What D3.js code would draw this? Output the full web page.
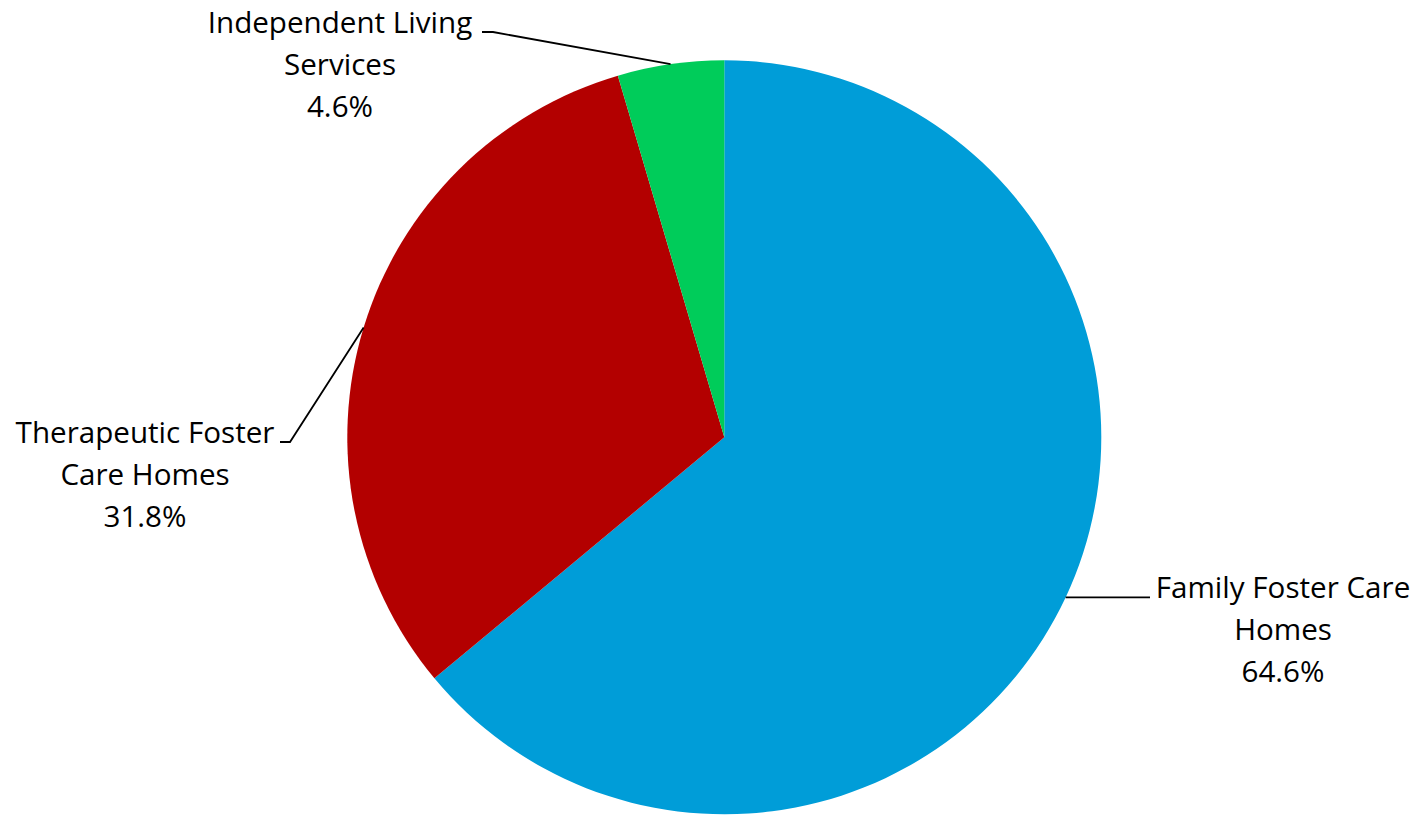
<!DOCTYPE html>
<html>
<head>
<meta charset="utf-8">
<script src="https://cdn.jsdelivr.net/npm/d3@7"></script>
<style>
  html, body { margin: 0; padding: 0; background: #fff; }
  svg { display: block; }
  text { font-family: "Open Sans", "Noto Sans", sans-serif; fill: #000; }
</style>
</head>
<body>
<svg id="chart" width="1420" height="818"></svg>
<script>
// Data
const categories = ["Family Foster Care Homes", "Therapeutic Foster Care Homes", "Independent Living Services"];
const labelLines = [["Family Foster Care", "Homes"], ["Therapeutic Foster", "Care Homes"], ["Independent Living", "Services"]];
const values = [64.6, 31.8, 4.6];
const percentLabels = ["64.6%", "31.8%", "4.6%"];
const colors = ["#009DD8", "#B30000", "#00CC5A"];

// Layout
const W = 1420, H = 818;
const cx = 724.3, cy = 437.3, R = 377;
const fontSize = 29.6, lineH = 42;
// label layout: text anchor centre x, first baseline y, elbow end (where horizontal segment meets text)
const labelLayout = [
  { x: 1283, y: 598, side: "right", elbowX: 1150 },
  { x: 145, y: 443, side: "left", elbowX: 290, endX: 280 },
  { x: 340, y: 33, side: "left", elbowX: 493, endX: 482 }
];

const svg = d3.select("#chart");
const g = svg.append("g").attr("transform", `translate(${cx},${cy})`);

const pie = d3.pie().sort(null).value(d => d)(values);
const arc = d3.arc().innerRadius(0).outerRadius(R);
const edge = d3.arc().innerRadius(R).outerRadius(R);

g.selectAll("path.slice")
  .data(pie)
  .join("path")
  .attr("class", "slice")
  .attr("d", arc)
  .attr("fill", (d, i) => colors[i]);

// leader lines and labels
pie.forEach((d, i) => {
  const [px, py] = edge.centroid(d);
  const L = labelLayout[i];
  const sx = px + cx, sy = py + cy;
  let pts;
  if (L.side === "right") {
    pts = [[sx, sy], [L.elbowX, sy]];
  } else {
    const yy = L.y - 1;
    pts = [[sx, sy], [L.elbowX, yy], [L.endX, yy]];
  }
  svg.append("path")
    .attr("d", d3.line()(pts))
    .attr("fill", "none")
    .attr("stroke", "#000")
    .attr("stroke-width", 1.8);

  const t = svg.append("text")
    .attr("text-anchor", "middle")
    .attr("font-size", fontSize);
  const lines = labelLines[i].concat([percentLabels[i]]);
  lines.forEach((ln, k) => {
    t.append("tspan").attr("x", L.x).attr("y", L.y + k * lineH).text(ln);
  });
});
</script>
</body>
</html>
